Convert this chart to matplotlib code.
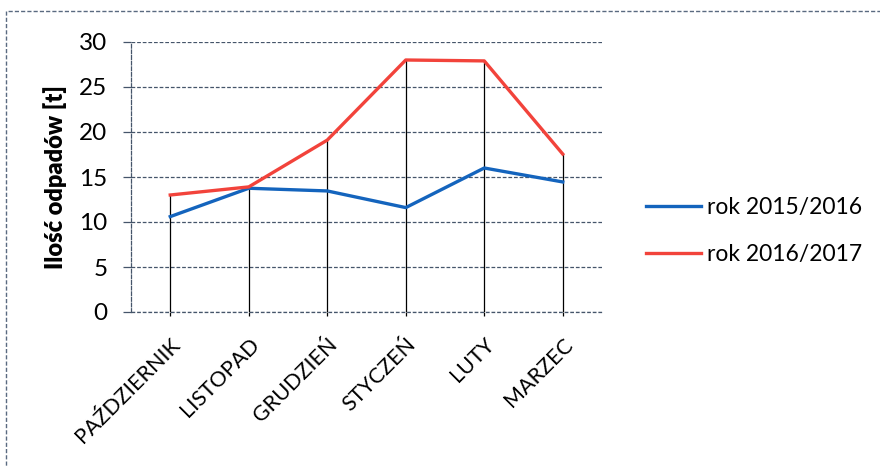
import matplotlib.pyplot as plt
from matplotlib.patches import Rectangle

plt.rcParams['font.family'] = ['Lato', 'DejaVu Sans']

miesiace = ['PAŹDZIERNIK', 'LISTOPAD', 'GRUDZIEŃ', 'STYCZEŃ', 'LUTY', 'MARZEC']
rok_2015_2016 = [10.6, 13.75, 13.45, 11.6, 16.0, 14.45]
rok_2016_2017 = [13.0, 13.9, 19.1, 28.0, 27.9, 17.55]
y_ticks = [0, 5, 10, 15, 20, 25, 30]

fig = plt.figure(figsize=(8.8, 4.66), dpi=100)
ax = fig.add_axes([131 / 880, 1 - 312 / 466, 471 / 880, 270 / 466])

x = list(range(len(miesiace)))

# linie pionowe od maksimum do osi
for i in x:
    ax.vlines(i, 0, max(rok_2015_2016[i], rok_2016_2017[i]), color='black', lw=0.9, zorder=2)

ax.plot(x, rok_2015_2016, color='#1464bd', lw=2.4, label='rok 2015/2016', zorder=3)
ax.plot(x, rok_2016_2017, color='#f2433b', lw=2.4, label='rok 2016/2017', zorder=3)

ax.set_xlim(-0.5, len(miesiace) - 0.5)
ax.set_ylim(0, 30)
ax.set_yticks(y_ticks)
ax.yaxis.grid(True, linestyle=(0, (3, 1.5)), color='#45556a', lw=0.9)
ax.set_axisbelow(True)

for s in ['top', 'right', 'bottom']:
    ax.spines[s].set_visible(False)
ax.spines['left'].set_linestyle((0, (3, 1.5)))
ax.spines['left'].set_color('#45556a')
ax.spines['left'].set_linewidth(0.9)
ax.axhline(0, color='#45556a', lw=0.9, linestyle=(0, (3, 1.5)), clip_on=False)

ax.tick_params(axis='y', length=6, width=0.9, color='#45556a', pad=11, labelsize=17.5)
ax.tick_params(axis='x', length=3, width=0.9, color='black', pad=13)
ax.set_xticks(x)
ax.set_xticklabels(miesiace, rotation=45, ha='right', va='top', rotation_mode='anchor', fontsize=15.5)

ax.set_ylabel('Ilość odpadów [t]', fontsize=17, fontweight='heavy', labelpad=9)

ax.legend(loc='center left', bbox_to_anchor=(1.05, 0.30), frameon=False, fontsize=16.5,
          handlelength=2.4, handletextpad=0.25, labelspacing=1.1)

# przerywana ramka wykresu
fig.patches.append(Rectangle((6, -20), 900, 466 - 11 + 20, transform=None, fill=False,
                             edgecolor='#5a6a80', lw=1.0, linestyle=(0, (3, 1.5))))

fig.savefig('out.png', dpi=100)
